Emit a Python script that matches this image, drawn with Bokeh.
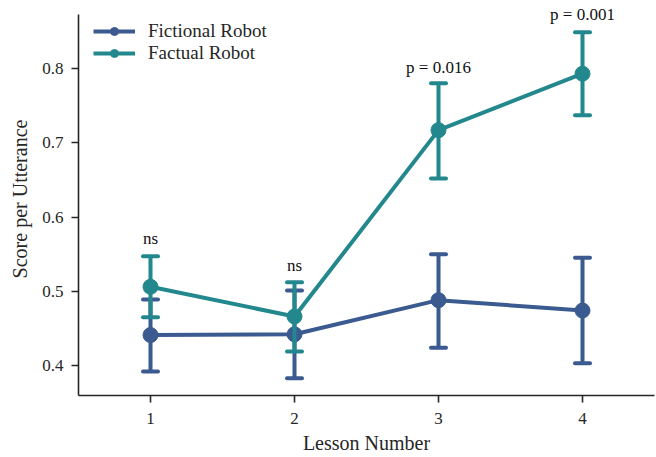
from bokeh.plotting import figure
from bokeh.models import Range1d, FixedTicker, Legend, LegendItem
from bokeh.core.properties import value
from bokeh.embed import file_html
from bokeh.resources import INLINE

lessons = [1, 2, 3, 4]
fict_mean = [0.441, 0.442, 0.488, 0.474]
fict_low = [0.392, 0.383, 0.424, 0.403]
fict_high = [0.489, 0.501, 0.550, 0.545]
fact_mean = [0.506, 0.466, 0.717, 0.793]
fact_low = [0.465, 0.419, 0.652, 0.737]
fact_high = [0.547, 0.512, 0.780, 0.849]
ann_labels = ["ns", "ns", "p = 0.016", "p = 0.001"]
ann_y = [0.571, 0.535, 0.802, 0.873]

FONT = "Liberation Serif"
C_FICT = "#3a5a90"
C_FACT = "#23888d"

p = figure(width=656, height=457, output_backend="svg", toolbar_location=None,
           x_range=Range1d(0.5, 4.5), y_range=Range1d(0.3596, 0.8889),
           min_border_left=78, min_border_right=2, min_border_top=2, min_border_bottom=62)
p.outline_line_color = None
p.xgrid.visible = False
p.ygrid.visible = False
p.background_fill_color = "white"

for ax in (p.xaxis[0], p.yaxis[0]):
    ax.axis_line_color = "#262626"
    ax.axis_line_width = 1.6
    ax.major_tick_line_color = "#262626"
    ax.major_tick_line_width = 1.6
    ax.major_tick_out = 7
    ax.major_tick_in = 0
    ax.minor_tick_line_color = None
    ax.major_label_text_font = FONT
    ax.major_label_text_font_size = "17px"
    ax.major_label_text_color = "#262626"
    ax.axis_label_text_font = FONT
    ax.axis_label_text_font_size = "20px"
    ax.axis_label_text_font_style = "normal"
    ax.axis_label_text_color = "#262626"

p.yaxis.bounds = (0.3596, 0.8727)
p.xaxis.ticker = FixedTicker(ticks=lessons)
p.yaxis.ticker = FixedTicker(ticks=[0.4, 0.5, 0.6, 0.7, 0.8])
p.xaxis.axis_label = "Lesson Number"
p.yaxis.axis_label = "Score per Utterance"
p.xaxis.major_label_standoff = 10
p.yaxis.major_label_standoff = 8
p.xaxis.axis_label_standoff = 5
p.yaxis.axis_label_standoff = 8

items = []
for name, col, m, lo, hi in [("Fictional Robot", C_FICT, fict_mean, fict_low, fict_high),
                             ("Factual Robot", C_FACT, fact_mean, fact_low, fact_high)]:
    ln = p.line(lessons, m, line_color=col, line_width=4)
    p.segment(x0=lessons, y0=lo, x1=lessons, y1=hi, line_color=col, line_width=4)
    p.scatter(lessons, lo, marker="dash", size=15, line_color=col, line_width=4, line_cap="round")
    p.scatter(lessons, hi, marker="dash", size=15, line_color=col, line_width=4, line_cap="round")
    sc = p.scatter(lessons, m, marker="circle", size=15, fill_color=col, line_color=col)
    items.append(LegendItem(label=name, renderers=[ln, sc]))

p.text(x=lessons, y=ann_y, text=ann_labels, text_align="center", text_baseline="alphabetic",
       text_font=value(FONT), text_font_size="17px", text_color="#111111")

legend = Legend(items=items, location=(15, 331), border_line_color=None,
                background_fill_alpha=0, label_text_font=FONT, label_text_font_size="19px",
                label_text_color="#262626", glyph_width=42, glyph_height=20, label_height=20,
                label_standoff=13, spacing=-4, margin=0, padding=0)
p.add_layout(legend)

open("out.html", "w").write(file_html(p, INLINE))
